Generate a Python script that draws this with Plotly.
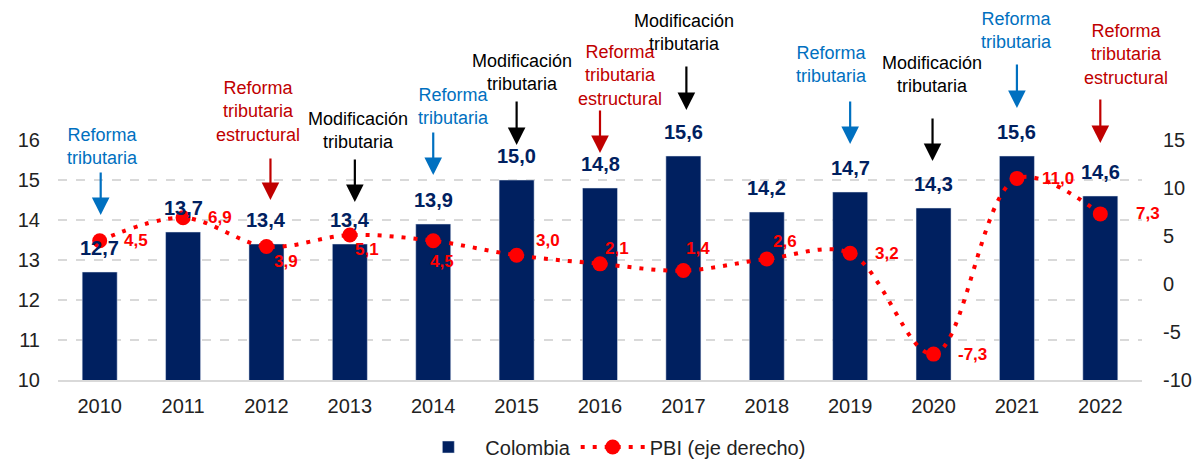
import plotly.graph_objects as go

years = ["2010", "2011", "2012", "2013", "2014", "2015", "2016",
         "2017", "2018", "2019", "2020", "2021", "2022"]
colombia = [12.7, 13.7, 13.4, 13.4, 13.9, 15.0, 14.8, 15.6, 14.2, 14.7, 14.3, 15.6, 14.6]
pbi = [4.5, 6.9, 3.9, 5.1, 4.5, 3.0, 2.1, 1.4, 2.6, 3.2, -7.3, 11.0, 7.3]

# events: year, kind
event_years = ["2010", "2012", "2013", "2014", "2015", "2016", "2017", "2019", "2020", "2021", "2022"]
event_kinds = ["reforma", "estructural", "modificacion", "reforma", "modificacion", "estructural",
               "modificacion", "reforma", "modificacion", "reforma", "estructural"]
event_texts = {
    "reforma": "Reforma<br>tributaria",
    "estructural": "Reforma<br>tributaria<br>estructural",
    "modificacion": "Modificación<br>tributaria",
}
event_colors = {"reforma": "#0070C0", "estructural": "#C00000", "modificacion": "#000000"}

# layout helpers (pixel geometry of the decorative annotations)
PLOT_TOP, PLOT_BOTTOM = 140, 380
ev_text_center = [146.5, 111, 131, 106.5, 72.5, 75, 32, 64.5, 74, 30.5, 55]
ev_text_dx = [3, -8, 8, 20, 5, 20, 1, -19, -2, 0, 26]
ev_tail = [171, 157, 158, 131, 100, 109, 65, 100, 117, 63, 98]
ev_tip = [215, 200, 202, 175, 145, 153, 110, 144, 161, 108, 143]
ev_arrow_dx = [1, 4, 5, 0, 0, 0, 3, 0, -1, 0, 0]
pbi_dx = [36, 37, 20, 17, 9, 31, 17, 15, 18, 37, 39, 41, 48]
pbi_dy = [0, 0, -15, -14, -21, 15, 15, 22, 18, 0, 0, 0, 0]

FONT = "Liberation Sans, Arial"

def fmt(v):
    return f"{v:.1f}".replace(".", ",")

def paper_y(py):
    return (PLOT_BOTTOM - py) / (PLOT_BOTTOM - PLOT_TOP)

fig = go.Figure()
fig.add_trace(go.Bar(
    x=years, y=colombia, name="Colombia", marker=dict(color="#002060"),
    width=0.42, yaxis="y",
))
fig.add_trace(go.Scatter(
    x=years, y=pbi, name="PBI (eje derecho)", yaxis="y2", mode="lines+markers",
    line=dict(color="#FF0000", width=4, dash="4px,8px", shape="spline", smoothing=1),
    marker=dict(color="#FF0000", size=15, symbol="circle"),
))

annotations = []
for i, v in enumerate(colombia):
    annotations.append(dict(
        x=i, y=v, xref="x", yref="y", text=f"<b>{fmt(v)}</b>", showarrow=False,
        yanchor="middle", xanchor="center", yshift=24,
        font=dict(size=20, color="#002060", family=FONT),
    ))
for i, (v, dx, dy) in enumerate(zip(pbi, pbi_dx, pbi_dy)):
    annotations.append(dict(
        x=i, y=v, xref="x", yref="y2", text=f"<b>{fmt(v)}</b>", showarrow=False,
        yanchor="middle", xanchor="center", xshift=dx, yshift=dy,
        font=dict(size=17, color="#FF0000", family=FONT),
    ))
for yr, kind, tc, dx, tail, tip, adx in zip(event_years, event_kinds, ev_text_center, ev_text_dx,
                                           ev_tail, ev_tip, ev_arrow_dx):
    col = event_colors[kind]
    xi = years.index(yr)
    annotations.append(dict(
        x=xi, y=paper_y(tc), xref="x", yref="paper", text=event_texts[kind], showarrow=False,
        yanchor="middle", xanchor="center", xshift=dx,
        font=dict(size=18, color=col, family=FONT),
    ))
    annotations.append(dict(
        x=xi, y=paper_y(tip), xref="x", yref="paper", text="", showarrow=True, xshift=adx,
        ax=0, ay=-(tip - tail), arrowhead=2, arrowsize=1.6, arrowwidth=2.2, arrowcolor=col,
    ))

fig.update_layout(
    width=1193, height=462, autosize=False,
    margin=dict(l=58, r=51, t=PLOT_TOP, b=462 - PLOT_BOTTOM, autoexpand=False),
    plot_bgcolor="white", paper_bgcolor="white",
    font=dict(family=FONT, size=20, color="#222222"),
    xaxis=dict(
        type="category", range=[-0.5, len(years) - 0.5], autorange=False,
        showline=True, linecolor="#D9D9D9", linewidth=2,
        showgrid=False, ticks="", tickfont=dict(size=20, color="#222222"),
        ticklabelstandoff=7,
    ),
    yaxis=dict(
        range=[10, 16], tickvals=[10, 11, 12, 13, 14, 15, 16],
        showgrid=True, gridcolor="#D9D9D9", griddash="dash", gridwidth=2,
        zeroline=False, showline=False, ticks="", ticklabelstandoff=17,
        tickfont=dict(size=20, color="#222222"),
    ),
    yaxis2=dict(
        overlaying="y", side="right", range=[-10, 15],
        tickvals=[-10, -5, 0, 5, 10, 15], ticktext=["-10", "-5", "0", "5", "10", "15"],
        showgrid=False, zeroline=False, showline=False, ticks="", ticklabelstandoff=20,
        tickfont=dict(size=20, color="#222222"),
    ),
    legend=dict(
        orientation="h", x=0.51, xanchor="center", y=paper_y(447), yanchor="middle",
        font=dict(size=20, color="#222222"), itemwidth=64,
    ),
    annotations=annotations,
)

fig.write_html(
    "out.html",
    config={"displayModeBar": False},
    post_script="document.body.style.margin='0';document.body.style.overflow='hidden';",
)
